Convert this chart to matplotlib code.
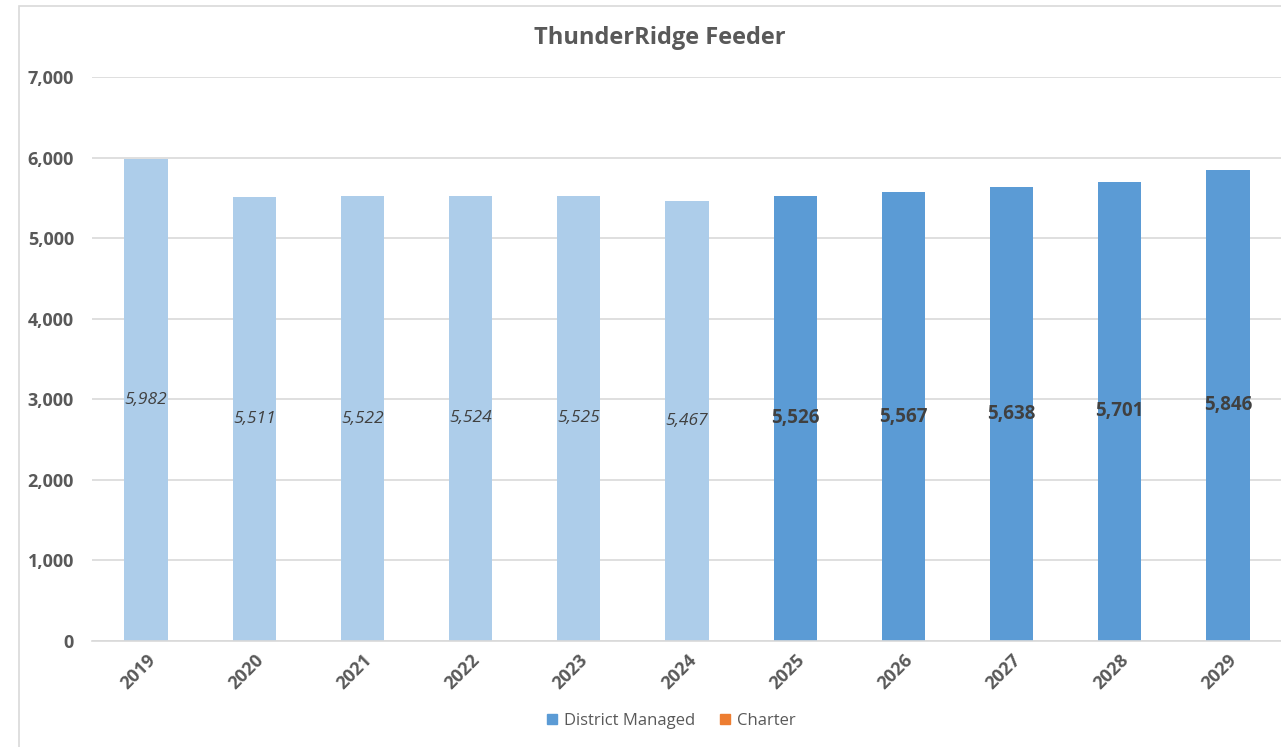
import matplotlib.pyplot as plt
from matplotlib.patches import Rectangle, Patch

years = ['2019', '2020', '2021', '2022', '2023', '2024',
         '2025', '2026', '2027', '2028', '2029']
district_managed = [5982, 5511, 5522, 5524, 5525, 5467,
                    5526, 5567, 5638, 5701, 5846]
is_projection = [False] * 6 + [True] * 5

LIGHT = '#ADCDEA'
DARK = '#5B9BD5'
ORANGE = '#ED7D31'
GRAY = '#595959'

plt.rcParams['font.family'] = ['Open Sans', 'DejaVu Sans']

fig = plt.figure(figsize=(12.81, 7.47), dpi=100)
ax = fig.add_axes([0.0718, 0.1419, 0.929, 0.755])

# chart border (right side is cut off in the reference)
fig.patches.append(Rectangle((19 / 1281, -0.01), 1.1, 1 - 6 / 747 + 0.01,
                             transform=fig.transFigure, fill=False,
                             edgecolor='#D9D9D9', linewidth=1.2))

x = range(len(years))
colors = [DARK if p else LIGHT for p in is_projection]
bars = ax.bar(x, district_managed, width=0.4, color=colors, zorder=2)

for b, v, p in zip(bars, district_managed, is_projection):
    ax.text(b.get_x() + b.get_width() / 2, v / 2, f'{v:,}',
            ha='center', va='center', color='#404040',
            fontsize=13.5 if p else 12.5,
            fontweight='bold' if p else 'normal',
            fontstyle='normal' if p else 'italic', zorder=3)

ax.set_xlim(-0.5, len(years) - 0.5)
ax.set_ylim(0, 7000)
ax.set_yticks(range(0, 7001, 1000))
ax.set_yticklabels([f'{t:,}' for t in range(0, 7001, 1000)])
ax.set_xticks(list(x))
ax.set_xticklabels(years, rotation=45, ha='right', rotation_mode='anchor')

ax.grid(axis='y', color='#D9D9D9', linewidth=1.2, zorder=0)
ax.set_axisbelow(True)
for s in ['top', 'right', 'left']:
    ax.spines[s].set_visible(False)
ax.spines['bottom'].set_color('#D9D9D9')
ax.spines['bottom'].set_linewidth(1.2)
ax.tick_params(axis='both', length=0, colors=GRAY, labelsize=13)
ax.tick_params(axis='y', pad=13)
ax.tick_params(axis='x', pad=7)
for lbl in ax.get_xticklabels() + ax.get_yticklabels():
    lbl.set_fontweight('bold')

fig.text(0.515, 0.949, 'ThunderRidge Feeder', ha='center', va='center',
         fontsize=17, fontweight='bold', color=GRAY)

handles = [Patch(color=DARK, label='District Managed'),
           Patch(color=ORANGE, label='Charter')]
fig.legend(handles=handles, loc='center', bbox_to_anchor=(0.524, 0.035),
           ncol=2, frameon=False, fontsize=12, handlelength=0.6,
           handleheight=0.6, handletextpad=0.4, columnspacing=1.5,
           labelcolor=GRAY)

fig.savefig('out.png', dpi=100)
